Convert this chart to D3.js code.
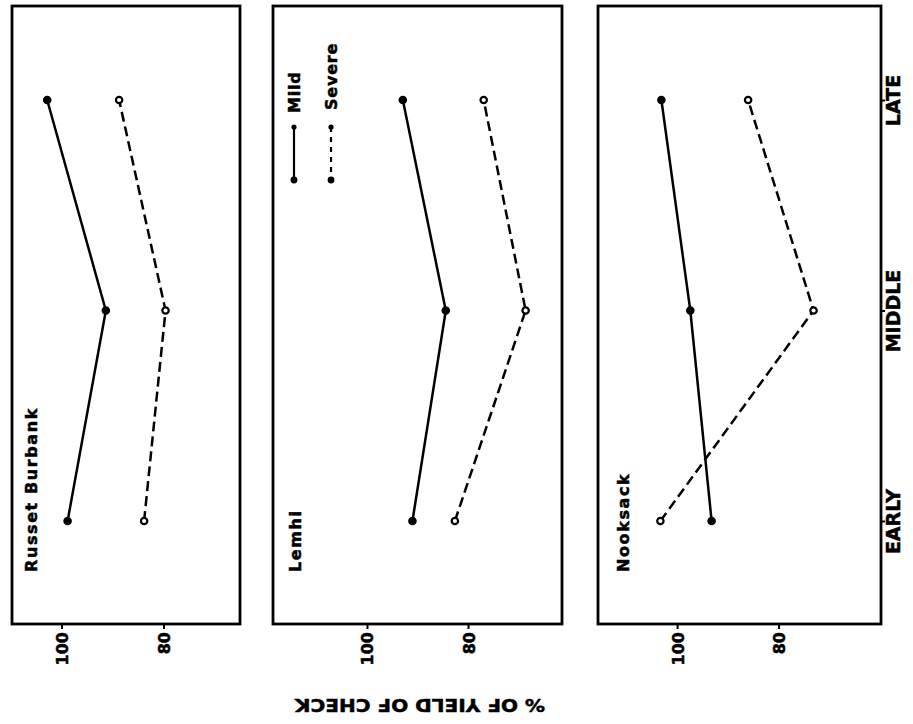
<!DOCTYPE html>
<html>
<head>
<meta charset="utf-8">
<script src="https://cdn.jsdelivr.net/npm/d3@7"></script>
<style>
  body { margin: 0; background: #fff; }
  text { font-family: "DejaVu Sans", sans-serif; font-weight: bold; fill: #000; stroke: #000; stroke-width: 0.5px; }
</style>
</head>
<body>
<svg id="chart" width="913" height="724"></svg>
<script>
// data
const periods = ["EARLY", "MIDDLE", "LATE"];
const cultivars = ["Russet Burbank", "Lemhi", "Nooksack"];
const seriesNames = ["Mild", "Severe"];
// values per cultivar, in periods order
const mildValues = [[98.8, 91.3, 102.8], [91.0, 84.4, 92.9], [93.2, 97.4, 103.1]];
const severeValues = [[83.8, 79.6, 88.7], [82.6, 68.6, 76.9], [103.3, 73.1, 86.0]];
const valueTicks = [100, 80];
const axisTitle = "% OF YIELD OF CHECK";

// layout (panels are not quite the same width in the scan)
const panelBox = [[12, 240], [273, 562], [598, 881]];
const panelDomain = [[109.7, 65.0], [118.6, 61.4], [115.6, 59.8]];
const panelTop = 6, panelBottom = 624;

const svg = d3.select("#chart");

const y = d3.scalePoint()
    .domain(periods.slice().reverse()) // LATE at the top
    .range([100, 521]);

const dashes = ["none", "10,5"];

cultivars.forEach((name, i) => {
    const [x0, x1] = panelBox[i];
    const x = d3.scaleLinear().domain(panelDomain[i]).range([x0, x1]);
    const g = svg.append("g");

    g.append("rect")
        .attr("x", x0).attr("y", panelTop)
        .attr("width", x1 - x0).attr("height", panelBottom - panelTop)
        .attr("fill", "none")
        .attr("stroke", "#000")
        .attr("stroke-width", 2.8);

    // value axis along the bottom, labels turned on their side
    const ax = g.append("g")
        .attr("transform", `translate(0,${panelBottom})`)
        .call(d3.axisBottom(x).tickValues(valueTicks).tickSize(5).tickSizeOuter(0));
    ax.select(".domain").remove();
    ax.selectAll("line").attr("stroke-width", 2);
    ax.selectAll("text")
        .attr("y", 0).attr("dy", null)
        .attr("transform", "translate(6,8) rotate(-90)")
        .attr("text-anchor", "end")
        .style("font-size", "16px");

    // cultivar name
    const nameX = [37, 301, 629][i];
    g.append("text")
        .attr("transform", `translate(${nameX},572) rotate(-90)`)
        .style("font-size", "16px")
        .style("letter-spacing", "1.6px")
        .text(name);

    [mildValues[i], severeValues[i]].forEach((vals, s) => {
        const pts = vals.map((v, k) => ({ t: periods[k], v: v }));
        g.append("path")
            .datum(pts)
            .attr("fill", "none")
            .attr("stroke", "#000")
            .attr("stroke-width", 2.5)
            .attr("stroke-dasharray", dashes[s])
            .attr("d", d3.line().x(d => x(d.v)).y(d => y(d.t)));
        g.selectAll(null)
            .data(pts)
            .enter().append("circle")
            .attr("cx", d => x(d.v))
            .attr("cy", d => y(d.t))
            .attr("r", 3.2)
            .attr("fill", s == 0 ? "#000" : "#fff")
            .attr("stroke", "#000")
            .attr("stroke-width", 2.2);
    });
});

// time axis on the right of the last panel
const ay = svg.append("g")
    .attr("transform", `translate(${panelBox[2][1]},0)`)
    .call(d3.axisRight(y).tickSize(4).tickSizeOuter(0));
ay.select(".domain").remove();
ay.selectAll("line").attr("stroke-width", 2);
ay.selectAll("text")
    .attr("x", 0).attr("dy", null)
    .attr("transform", "translate(19,0) rotate(-90)")
    .attr("text-anchor", "middle")
    .style("font-size", "19px");

// axis title, printed upside down
svg.append("text")
    .attr("transform", "translate(420,699) rotate(180)")
    .attr("text-anchor", "middle")
    .attr("textLength", 250)
    .attr("lengthAdjust", "spacingAndGlyphs")
    .style("font-size", "18px")
    .text(axisTitle);

// legend in the middle panel
const legendX = [294, 331];
const leg = svg.append("g");
seriesNames.forEach((s, k) => {
    leg.append("line")
        .attr("x1", legendX[k]).attr("x2", legendX[k])
        .attr("y1", 127).attr("y2", 180)
        .attr("stroke", "#000")
        .attr("stroke-width", 2.2)
        .attr("stroke-dasharray", k == 0 ? "none" : "5,5");
    leg.selectAll(null)
        .data([127, 180])
        .enter().append("circle")
        .attr("cx", legendX[k]).attr("cy", d => d)
        .attr("r", d => d == 127 ? 2.6 : 3.4)
        .attr("fill", "#000");
    leg.append("text")
        .attr("transform", `translate(${legendX[k] + 6},${k == 0 ? 113 : 110}) rotate(-90)`)
        .style("font-size", "16px")
        .style("letter-spacing", "0.8px")
        .text(s);
});
</script>
</body>
</html>
